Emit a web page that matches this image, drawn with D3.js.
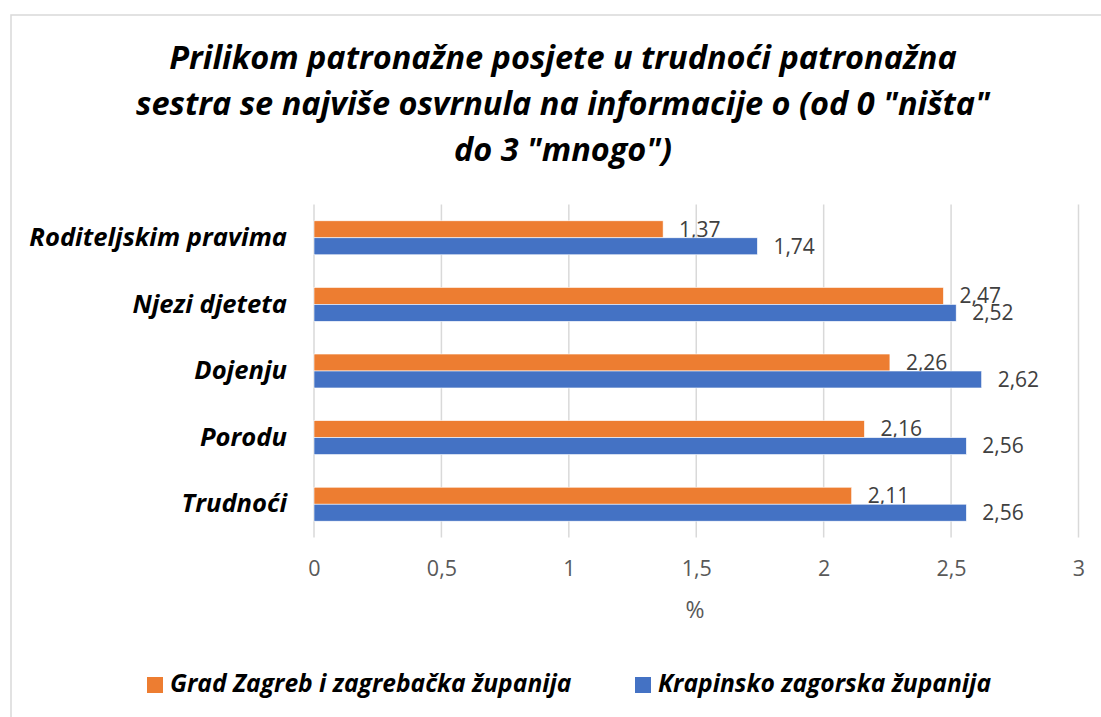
<!DOCTYPE html>
<html>
<head>
<meta charset="utf-8">
<script src="https://cdn.jsdelivr.net/npm/d3@7"></script>
<style>
  body { margin: 0; background: #fff; }
  svg text { font-family: "Open Sans", "Noto Sans", sans-serif; }
</style>
</head>
<body>
<div id="chart"></div>
<script>
var width = 1101;
var height = 717;

// chart data
var categories = ["Roditeljskim pravima", "Njezi djeteta", "Dojenju", "Porodu", "Trudnoći"];
var seriesNames = ["Grad Zagreb i zagrebačka županija", "Krapinsko zagorska županija"];
var zagrebValues = [1.37, 2.47, 2.26, 2.16, 2.11];
var krapinaValues = [1.74, 2.52, 2.62, 2.56, 2.56];
var xTicks = [0, 0.5, 1, 1.5, 2, 2.5, 3];
var titleLines = [
	"Prilikom patronažne posjete u trudnoći patronažna",
	"sestra se najviše osvrnula na informacije o (od 0 \"ništa\"",
	"do 3 \"mnogo\")"
];
var colors = ["#ED7D31", "#4472C4"];

window.onload = start;

function start() {
	var svg = d3.select("#chart")
		.append("svg")
		.attr("width", width)
		.attr("height", height);

	// outer frame
	svg.append("rect")
		.attr("x", 11).attr("y", 15)
		.attr("width", 1100).attr("height", 720)
		.attr("fill", "#fff")
		.attr("stroke", "#d9d9d9")
		.attr("stroke-width", 1.5);

	// title
	svg.append("g").selectAll("text")
		.data(titleLines)
		.enter()
		.append("text")
		.attr("x", 563)
		.attr("y", function(d, i) { return 69 + i * 46; })
		.attr("text-anchor", "middle")
		.style("font-style", "italic")
		.style("font-weight", "bold")
		.style("font-size", "32.5px")
		.attr("fill", "#000")
		.text(function(d) { return d; });

	var xScale = d3.scaleLinear().domain([0, 3]).range([314, 1078.5]);
	var yScale = d3.scaleBand().domain(categories).range([204.5, 537.5])
		.paddingInner(0.49).paddingOuter(0.245);
	var subScale = d3.scaleBand().domain([0, 1]).range([0, yScale.bandwidth()]);

	// gridlines
	svg.append("g").selectAll("line")
		.data(xTicks)
		.enter()
		.append("line")
		.attr("x1", function(d) { return xScale(d); })
		.attr("x2", function(d) { return xScale(d); })
		.attr("y1", 204.5)
		.attr("y2", 537.5)
		.attr("stroke", "#d9d9d9")
		.attr("stroke-width", 1.5);

	// x axis tick labels
	var xAxis = d3.axisBottom(xScale)
		.tickValues(xTicks)
		.tickSize(0)
		.tickPadding(0)
		.tickFormat(function(d) { return String(d).replace(".", ","); });
	var gx = svg.append("g")
		.attr("transform", "translate(0,561)")
		.call(xAxis);
	gx.select(".domain").remove();
	gx.selectAll("text")
		.attr("fill", "#595959")
		.style("font-size", "21.5px")
		.style("font-family", "'Open Sans', sans-serif");

	svg.append("text")
		.attr("x", 695)
		.attr("y", 618)
		.attr("text-anchor", "middle")
		.attr("fill", "#595959")
		.style("font-size", "23px")
		.text("%");

	// category labels
	var yAxis = d3.axisLeft(yScale).tickSize(0).tickPadding(0);
	var gy = svg.append("g")
		.attr("transform", "translate(287,0)")
		.call(yAxis);
	gy.select(".domain").remove();
	gy.selectAll("text")
		.attr("fill", "#000")
		.style("font-size", "25.6px")
		.style("font-weight", "bold")
		.style("font-style", "italic")
		.style("font-family", "'Open Sans', sans-serif");

	// bars
	var seriesValues = [zagrebValues, krapinaValues];
	seriesValues.forEach(function(vals, s) {
		var g = svg.append("g");
		g.selectAll("rect")
			.data(vals)
			.enter()
			.append("rect")
			.attr("x", xScale(0))
			.attr("y", function(d, i) { return yScale(categories[i]) + subScale(s); })
			.attr("width", function(d) { return xScale(d) - xScale(0); })
			.attr("height", subScale.bandwidth())
			.attr("fill", colors[s])
			.attr("stroke", "#fff")
			.attr("stroke-width", 0.6);

		g.selectAll("text")
			.data(vals)
			.enter()
			.append("text")
			.attr("x", function(d) { return xScale(d) + 16; })
			.attr("y", function(d, i) { return yScale(categories[i]) + subScale(s) + subScale.bandwidth() / 2; })
			.attr("dy", "0.35em")
			.attr("fill", "#404040")
			.style("font-size", "21px")
			.text(function(d) { return d.toFixed(2).replace(".", ","); });
	});

	// legend
	var legendX = [147, 635];
	var legend = svg.append("g").selectAll("g")
		.data(seriesNames)
		.enter()
		.append("g")
		.attr("transform", function(d, i) { return "translate(" + legendX[i] + ",677)"; });
	legend.append("rect")
		.attr("width", 16).attr("height", 16)
		.attr("fill", function(d, i) { return colors[i]; });
	legend.append("text")
		.attr("x", 23)
		.attr("y", 15)
		.attr("fill", "#000")
		.style("font-size", "24.6px")
		.style("font-weight", "bold")
		.style("font-style", "italic")
		.text(function(d) { return d; });
}
</script>
</body>
</html>
